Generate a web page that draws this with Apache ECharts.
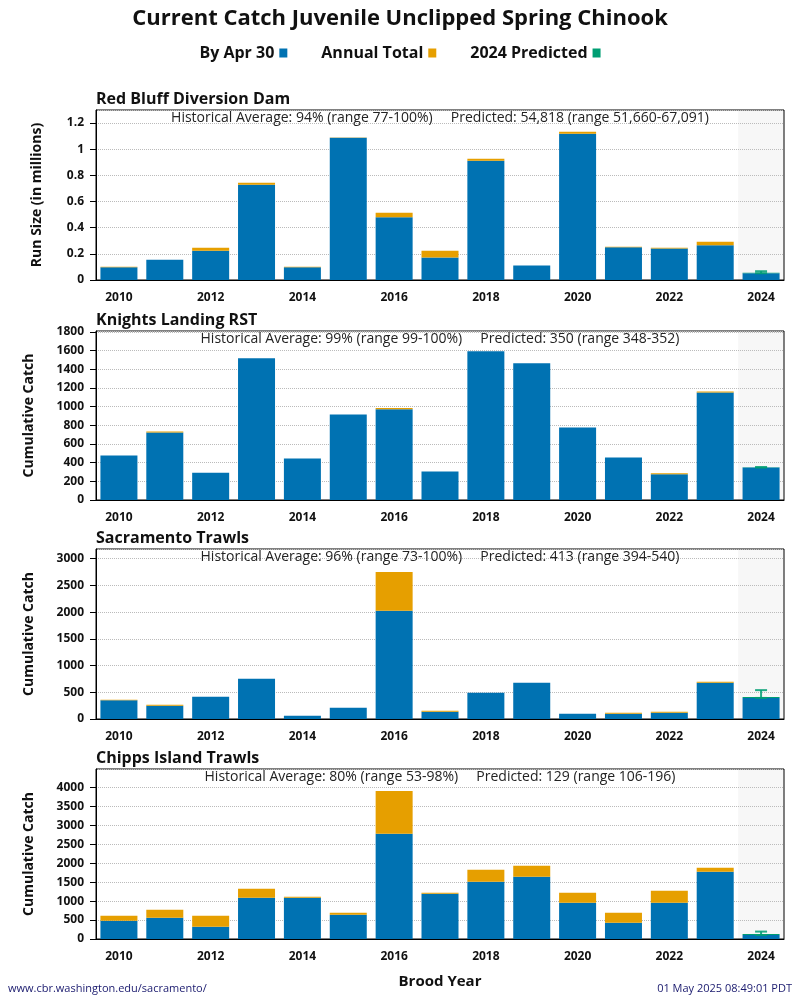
<!DOCTYPE html>
<html>
<head>
<meta charset="utf-8">
<script src="https://cdn.jsdelivr.net/npm/echarts@6/dist/echarts.min.js"></script>
<style>
  html, body { margin: 0; padding: 0; background: #fff; }
  #chart { width: 800px; height: 1000px; }
</style>
</head>
<body>
<div id="chart"></div>
<script>
const years = ['2010', '2011', '2012', '2013', '2014', '2015', '2016', '2017', '2018', '2019', '2020', '2021', '2022', '2023', '2024'];

// Red Bluff Diversion Dam (millions)
const rbddApr30 = [0.097, 0.155, 0.224, 0.729, 0.097, 1.088, 0.479, 0.173, 0.912, 0.110, 1.118, 0.250, 0.240, 0.265, 0.05166];
const rbddTotal = [0.102, 0.155, 0.247, 0.744, 0.102, 1.090, 0.515, 0.224, 0.927, 0.110, 1.134, 0.255, 0.247, 0.293, null];

// Knights Landing RST
const klApr30 = [476, 723, 293, 1517, 444, 916, 973, 304, 1593, 1464, 777, 455, 276, 1152, 348];
const klTotal = [476, 734, 293, 1517, 444, 916, 984, 304, 1593, 1464, 777, 455, 286, 1163, null];

// Sacramento Trawls
const stApr30 = [349, 249, 417, 753, 62, 212, 2023, 137, 492, 678, 100, 100, 118, 678, 394];
const stTotal = [361, 268, 417, 753, 62, 212, 2751, 156, 492, 678, 100, 118, 137, 697, null];

// Chipps Island Trawls
const ciApr30 = [484, 563, 325, 1090, 1090, 642, 2778, 1196, 1512, 1644, 958, 431, 958, 1776, 104];
const ciTotal = [615, 774, 615, 1327, 1116, 695, 3912, 1222, 1829, 1934, 1222, 695, 1275, 1881, null];

// 2024 predicted with range
const predValue = [0.054818, 350, 413, 129];
const predLow = [0.05166, 348, 394, 106];
const predHigh = [0.067091, 352, 540, 196];

const panelTitles = ['Red Bluff Diversion Dam', 'Knights Landing RST', 'Sacramento Trawls', 'Chipps Island Trawls'];
const panelNotes = [
    'Historical Average: 94% (range 77-100%)     Predicted: 54,818 (range 51,660-67,091)',
    'Historical Average: 99% (range 99-100%)     Predicted: 350 (range 348-352)',
    'Historical Average: 96% (range 73-100%)     Predicted: 413 (range 394-540)',
    'Historical Average: 80% (range 53-98%)     Predicted: 129 (range 106-196)'
];
const yNames = ['Run Size (in millions)', 'Cumulative Catch', 'Cumulative Catch', 'Cumulative Catch'];

const BLUE = '#0072B2', ORANGE = '#E69F00', GREEN = '#009E73';
const FONT = '"Open Sans", "Noto Sans", sans-serif';

// layout of each panel
const gridTops = [110, 331, 549, 769];
const gridHeights = [170, 169, 170, 170];
const yMax = [1.3, 1810, 3180, 4490];
const yInterval = [0.2, 200, 500, 500];
const yNameGap = [52, 60, 60, 60];

const aprData = [rbddApr30, klApr30, stApr30, ciApr30];
const totalData = [rbddTotal, klTotal, stTotal, ciTotal];

const myChart = echarts.init(document.getElementById('chart'), null, { renderer: 'canvas' });

const title = [{
    text: 'Current Catch Juvenile Unclipped Spring Chinook',
    left: 'center', top: 8, padding: 0,
    textStyle: { fontFamily: FONT, fontSize: 22, fontWeight: 'bold', color: '#111' }
}, {
    text: 'Brood Year',
    left: 440, top: 974, padding: 0, textAlign: 'center',
    textStyle: { fontFamily: FONT, fontSize: 15, fontWeight: 'bold', color: '#111' }
}, {
    text: 'www.cbr.washington.edu/sacramento/',
    left: 8, top: 983, padding: 0,
    textStyle: { fontFamily: FONT, fontSize: 11, fontWeight: 'normal', color: '#1a1a6e' }
}, {
    text: '01 May 2025 08:49:01 PDT',
    right: 8, top: 983, padding: 0,
    textStyle: { fontFamily: FONT, fontSize: 11, fontWeight: 'normal', color: '#1a1a6e' }
}];

const grid = [], xAxis = [], yAxis = [], series = [];

for (let i = 0; i < 4; i++) {
    title.push({
        text: panelTitles[i],
        left: 96, top: gridTops[i] - 19, padding: 0,
        textStyle: { fontFamily: FONT, fontSize: 16, fontWeight: 'bold', color: '#111' }
    });
    title.push({
        text: panelNotes[i],
        left: 440, top: gridTops[i] + 1, padding: 0, textAlign: 'center',
        textStyle: { fontFamily: FONT, fontSize: 14, fontWeight: 'normal', color: '#222' }
    });

    grid.push({
        left: 96, top: gridTops[i], width: 688, height: gridHeights[i],
        show: true, borderColor: '#000', borderWidth: 1, backgroundColor: 'transparent'
    });

    xAxis.push({
        type: 'category', gridIndex: i, data: years,
        axisLine: { lineStyle: { color: '#000', width: 1 } },
        axisTick: { show: false },
        axisLabel: {
            interval: 1, margin: 12,
            fontFamily: FONT, fontSize: 12, fontWeight: 'bold', color: '#111'
        }
    });
    // hidden axis for the shaded 2024 column
    xAxis.push({ type: 'category', gridIndex: i, data: years, show: false });

    yAxis.push({
        type: 'value', gridIndex: i, min: 0, max: yMax[i], interval: yInterval[i],
        name: yNames[i], nameLocation: 'middle', nameGap: yNameGap[i], nameRotate: 90,
        nameTextStyle: { fontFamily: FONT, fontSize: 14, fontWeight: 'bold', color: '#111' },
        axisLine: { show: true, lineStyle: { color: '#000' } },
        axisTick: { show: true, length: 6, lineStyle: { color: '#000' } },
        axisLabel: {
            showMaxLabel: false, margin: 12,
            formatter: function (v) { return String(v); },
            fontFamily: FONT, fontSize: 12, fontWeight: 'bold', color: '#111'
        },
        splitLine: { show: true, lineStyle: { color: '#bbb', type: 'dotted', width: 1 } }
    });

    const apr = aprData[i], tot = totalData[i];
    const extra = tot.map(function (t, k) { return t == null ? null : t - apr[k]; });
    const pred = years.map(function (y, k) { return k === years.length - 1 ? predValue[i] - apr[k] : null; });
    const band = years.map(function (y, k) { return k === years.length - 1 ? yMax[i] : null; });

    series.push({
        type: 'bar', xAxisIndex: 2 * i + 1, yAxisIndex: i, data: band,
        barWidth: '100%', silent: true, z: -1,
        itemStyle: { color: '#f7f7f7' }
    });
    series.push({
        name: 'By Apr 30', type: 'bar', stack: 'p' + i, xAxisIndex: 2 * i, yAxisIndex: i,
        data: apr, barWidth: 37, itemStyle: { color: BLUE }
    });
    series.push({
        name: 'Annual Total', type: 'bar', stack: 'p' + i, xAxisIndex: 2 * i, yAxisIndex: i,
        data: extra, barWidth: 37, itemStyle: { color: ORANGE }
    });
    series.push({
        name: '2024 Predicted', type: 'bar', stack: 'p' + i, xAxisIndex: 2 * i, yAxisIndex: i,
        data: pred, barWidth: 37, itemStyle: { color: GREEN }
    });
    // range of the prediction
    series.push({
        type: 'custom', xAxisIndex: 2 * i, yAxisIndex: i, silent: true, z: 5,
        data: [['2024', predLow[i], predHigh[i]]],
        encode: { x: 0, y: [1, 2] },
        renderItem: function (params, api) {
            const lo = api.coord([api.value(0), api.value(1)]);
            const hi = api.coord([api.value(0), api.value(2)]);
            const hw = 6;
            const st = { stroke: GREEN, lineWidth: 2, opacity: 0.85 };
            return {
                type: 'group',
                children: [
                    { type: 'line', shape: { x1: lo[0], y1: lo[1], x2: hi[0], y2: hi[1] }, style: st },
                    { type: 'line', shape: { x1: lo[0] - hw, y1: lo[1], x2: lo[0] + hw, y2: lo[1] }, style: st },
                    { type: 'line', shape: { x1: hi[0] - hw, y1: hi[1], x2: hi[0] + hw, y2: hi[1] }, style: st }
                ]
            };
        }
    });
}

myChart.setOption({
    backgroundColor: '#fff',
    animation: false,
    title: title,
    legend: {
        data: ['By Apr 30', 'Annual Total', '2024 Predicted'],
        left: 'center', top: 40, align: 'right',
        itemWidth: 8, itemHeight: 9, itemGap: 34, icon: 'rect',
        textStyle: { fontFamily: FONT, fontSize: 16, fontWeight: 'bold', color: '#111' }
    },
    grid: grid,
    xAxis: xAxis,
    yAxis: yAxis,
    series: series
});
</script>
</body>
</html>
